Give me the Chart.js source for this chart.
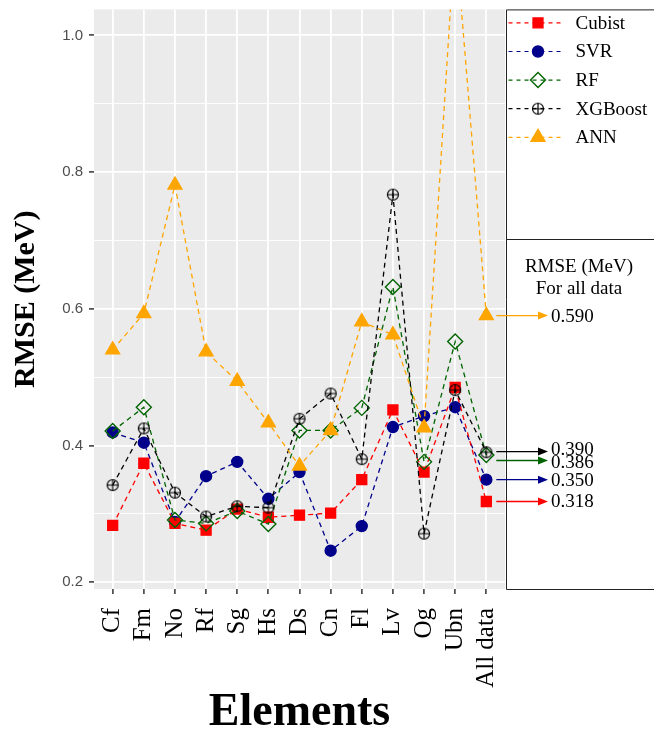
<!DOCTYPE html>
<html>
<head>
<meta charset="utf-8">
<script src="https://cdn.jsdelivr.net/npm/chart.js@4.4.0/dist/chart.umd.min.js"></script>
<style>
	body { margin: 0; background: #fff; }
	canvas { display: block; }
</style>
</head>
<body>
<canvas id="myChart" width="654" height="737"></canvas>
<script>
// RMSE per element
const categories = ['Cf', 'Fm', 'No', 'Rf', 'Sg', 'Hs', 'Ds', 'Cn', 'Fl', 'Lv', 'Og', 'Ubn', 'All data'];
const cubist  = [0.283, 0.374, 0.286, 0.276, 0.307, 0.295, 0.298, 0.301, 0.350, 0.452, 0.361, 0.485, 0.318];
const svr     = [0.419, 0.404, 0.288, 0.355, 0.376, 0.322, 0.361, 0.246, 0.282, 0.427, 0.443, 0.456, 0.350];
const rf      = [0.421, 0.456, 0.291, 0.286, 0.304, 0.285, 0.422, 0.422, 0.455, 0.632, 0.376, 0.552, 0.386];
const xgboost = [0.342, 0.425, 0.331, 0.296, 0.311, 0.309, 0.439, 0.476, 0.380, 0.767, 0.271, 0.481, 0.390];
const ann     = [0.540, 0.593, 0.781, 0.537, 0.494, 0.433, 0.370, 0.422, 0.581, 0.562, 0.426, 1.150, 0.590];

const yTicks = [0.2, 0.3, 0.4, 0.5, 0.6, 0.7, 0.8, 0.9, 1.0];
const yTickLabels = ['0.2', '', '0.4', '', '0.6', '', '0.8', '', '1.0'];

// "For all data" annotations (series order: Cubist, SVR, RF, XGBoost, ANN)
const allDataLabels = ['0.318', '0.350', '0.386', '0.390', '0.590'];
const arrowAt = [0.318, 0.350, 0.378, 0.391, 0.590];
const labelAt = [0.318, 0.350, 0.376, 0.395, 0.590];

const serif = '"Liberation Serif", "Times New Roman", serif';

function crossCircle(r) {
	const c = document.createElement('canvas');
	const s = Math.ceil(r * 2 + 3);
	c.width = c.height = s;
	const g = c.getContext('2d');
	g.strokeStyle = '#000';
	g.lineWidth = 1.2;
	g.beginPath();
	g.arc(s / 2, s / 2, r, 0, Math.PI * 2);
	g.moveTo(s / 2 - r, s / 2);
	g.lineTo(s / 2 + r, s / 2);
	g.moveTo(s / 2, s / 2 - r);
	g.lineTo(s / 2, s / 2 + r);
	g.stroke();
	return c;
}
const oplus = crossCircle(5.5);

function series(label, values, color, style, radius, fill, order) {
	return {
		label: label,
		data: values.map((v, i) => ({ x: i, y: v })),
		borderColor: color,
		backgroundColor: fill,
		borderWidth: 1.3,
		borderDash: [5, 4],
		pointStyle: style,
		pointRadius: radius,
		pointHoverRadius: radius,
		pointBorderColor: color,
		pointBackgroundColor: fill,
		pointBorderWidth: 1.4,
		tension: 0,
		order: order
	};
}

// lower order is drawn on top
const datasets = [
	series('Cubist', cubist, '#FF0000', 'rect', 7, '#FF0000', 4),
	series('SVR', svr, '#00008B', 'circle', 5.5, '#00008B', 5),
	series('RF', rf, '#006400', 'rectRot', 7.5, 'rgba(0,0,0,0)', 3),
	series('XGBoost', xgboost, '#000000', oplus, 6, 'rgba(0,0,0,0)', 2),
	series('ANN', ann, '#FFA500', 'triangle', 8, '#FFA500', 1)
];

const panelPlugin = {
	id: 'panel',
	beforeDraw(chart) {
		const { ctx, chartArea: a } = chart;
		ctx.save();
		ctx.fillStyle = '#EBEBEB';
		ctx.fillRect(a.left, a.top, a.right - a.left, a.bottom - a.top);
		ctx.restore();
	},
	afterDraw(chart) {
		const { ctx, chartArea: a } = chart;
		const xs = chart.scales.x, ys = chart.scales.y;
		const boxLeft = a.right + 1.5;
		const split = 239.5;
		ctx.save();

		// boxes on the right
		ctx.fillStyle = '#fff';
		ctx.fillRect(boxLeft, a.top, chart.width - boxLeft, a.bottom - a.top);
		ctx.strokeStyle = '#222';
		ctx.lineWidth = 1;
		ctx.beginPath();
		ctx.moveTo(chart.width + 2, a.top + 0.5);
		ctx.lineTo(boxLeft, a.top + 0.5);
		ctx.lineTo(boxLeft, a.bottom + 0.5);
		ctx.lineTo(chart.width + 2, a.bottom + 0.5);
		ctx.moveTo(boxLeft, split);
		ctx.lineTo(chart.width + 2, split);
		ctx.stroke();

		// legend
		ctx.font = '19px ' + serif;
		ctx.textBaseline = 'middle';
		ctx.textAlign = 'left';
		chart.data.datasets.forEach((ds, i) => {
			const y = a.top + 13.5 + i * 28.6;
			ctx.strokeStyle = ds.borderColor;
			ctx.lineWidth = 1.2;
			ctx.setLineDash([4, 4]);
			ctx.beginPath();
			ctx.moveTo(boxLeft + 2, y);
			ctx.lineTo(boxLeft + 58, y);
			ctx.stroke();
			ctx.setLineDash([]);
			ctx.fillStyle = ds.pointBackgroundColor;
			ctx.strokeStyle = ds.pointBorderColor;
			ctx.lineWidth = ds.pointBorderWidth;
			Chart.helpers.drawPoint(ctx, {
				pointStyle: ds.pointStyle, radius: ds.pointRadius, rotation: 0, borderWidth: ds.pointBorderWidth
			}, boxLeft + 31.5, y);
			ctx.fillStyle = '#000';
			ctx.fillText(ds.label, boxLeft + 69, y + 1);
		});

		// "For all data" panel
		ctx.textAlign = 'center';
		ctx.fillText('RMSE (MeV)', 579, 267);
		ctx.fillText('For all data', 579, 289);

		const last = categories.length - 1;
		const x0 = xs.getPixelForValue(last) + 10;
		const x1 = 548;
		ctx.textAlign = 'left';
		chart.data.datasets.forEach((ds, i) => {
			const y = ys.getPixelForValue(arrowAt[i]);
			ctx.strokeStyle = ds.borderColor;
			ctx.fillStyle = ds.borderColor;
			ctx.lineWidth = 1.3;
			ctx.beginPath();
			ctx.moveTo(x0, y);
			ctx.lineTo(x1 - 6, y);
			ctx.stroke();
			ctx.beginPath();
			ctx.moveTo(x1, y);
			ctx.lineTo(x1 - 10, y - 4);
			ctx.lineTo(x1 - 10, y + 4);
			ctx.closePath();
			ctx.fill();
			ctx.fillStyle = '#000';
			ctx.fillText(allDataLabels[i], 551, ys.getPixelForValue(labelAt[i]) + 1);
		});
		ctx.restore();
	}
};

new Chart(document.getElementById('myChart'), {
	type: 'line',
	data: { datasets: datasets },
	options: {
		responsive: false,
		animation: false,
		layout: { padding: { top: 8, right: 149, bottom: 0, left: 0 } },
		plugins: {
			legend: { display: false },
			tooltip: { enabled: false }
		},
		scales: {
			x: {
				type: 'linear',
				min: -0.6,
				max: categories.length - 1 + 0.6,
				afterBuildTicks: s => { s.ticks = categories.map((c, i) => ({ value: i })); },
				afterFit: s => { s.height = 148; s.paddingLeft = 0; s.paddingRight = 0; },
				border: { display: false },
				grid: { color: '#FFFFFF', lineWidth: 1.8, tickColor: '#333333', tickWidth: 1.5, tickLength: 5 },
				ticks: {
					autoSkip: false,
					maxRotation: 90,
					minRotation: 90,
					padding: 14,
					color: '#000',
					font: { family: serif, size: 25 },
					callback: (v, i) => categories[i]
				},
				title: {
					display: true,
					text: 'Elements',
					color: '#000',
					font: { family: serif, size: 46, weight: 'bold', lineHeight: 1 },
					padding: { top: 0, bottom: 1 }
				}
			},
			y: {
				min: 0.19,
				max: 1.038,
				afterBuildTicks: s => { s.ticks = yTicks.map(v => ({ value: v })); },
				afterFit: s => { s.width = 94; s.paddingTop = 0; s.paddingBottom = 0; },
				border: { display: false },
				grid: {
					color: '#FFFFFF',
					lineWidth: c => (c.index % 2 === 0 ? 1.8 : 0.9),
					tickColor: c => (c.index % 2 === 0 ? '#333333' : 'rgba(0,0,0,0)'),
					tickWidth: 1.5,
					tickLength: 5
				},
				ticks: {
					padding: 6,
					color: '#4D4D4D',
					font: { family: '"Liberation Sans", Arial, sans-serif', size: 15 },
					callback: (v, i) => yTickLabels[i]
				},
				title: {
					display: true,
					text: 'RMSE (MeV)',
					color: '#000',
					font: { family: serif, size: 30, weight: 'bold', lineHeight: 1 },
					padding: { top: 11, bottom: 0 }
				}
			}
		}
	},
	plugins: [panelPlugin]
});
</script>
</body>
</html>
